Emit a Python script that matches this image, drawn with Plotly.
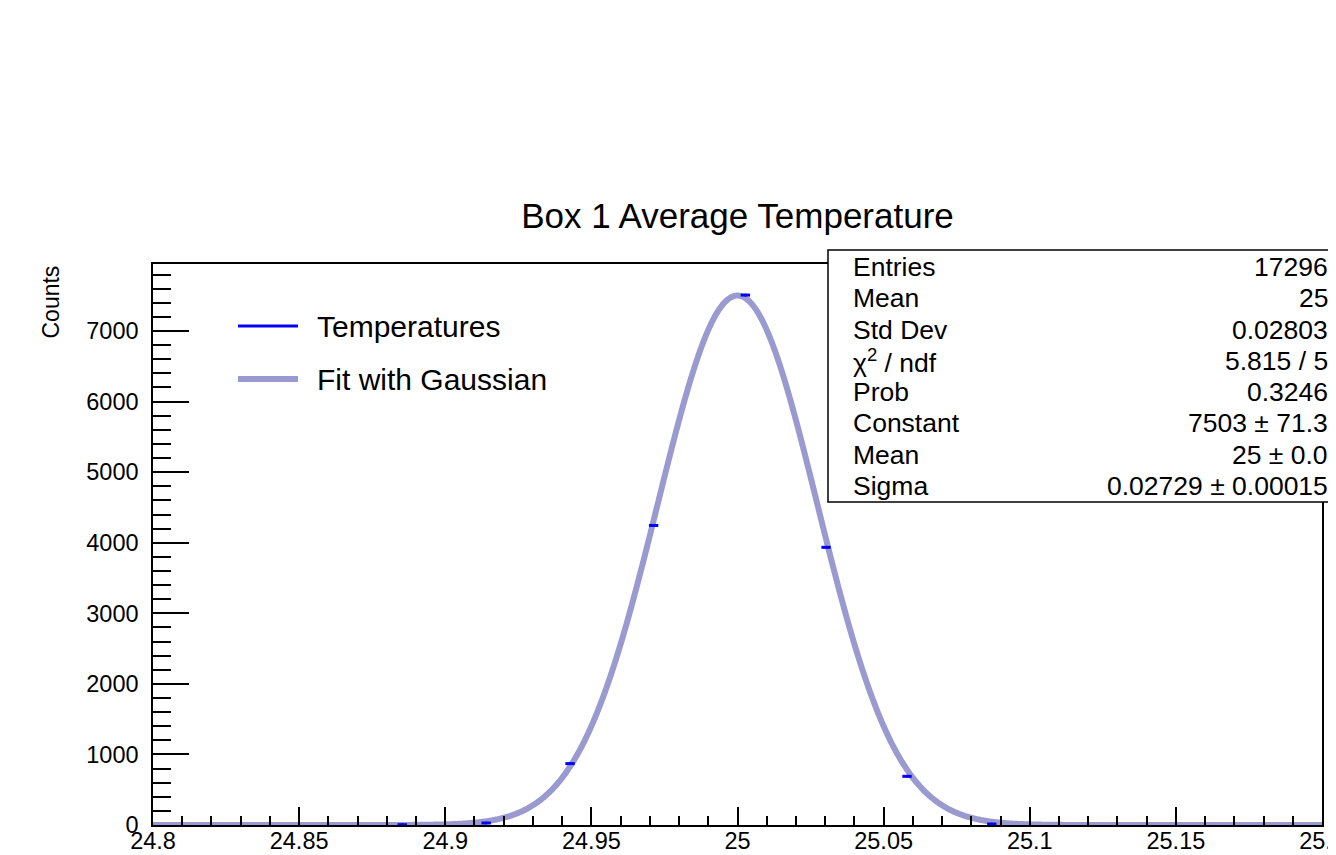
import numpy as np
import plotly.graph_objects as go

# ---- data ----
bin_centers = [24.8853, 24.9140, 24.9427, 24.9713, 25.0027, 25.0303, 25.0580, 25.0870]
bin_counts = [4, 28, 870, 4245, 7510, 3935, 690, 14]
bin_half_width = 0.0016

fit_constant = 7503.0
fit_mean = 25.0
fit_sigma = 0.02729

stats_labels = ["Entries", "Mean", "Std Dev", "\u03c7<sup>2</sup> / ndf", "Prob", "Constant", "Mean", "Sigma"]
stats_values = ["17296", "25", "0.02803", "5.815 / 5", "0.3246", "7503 \u00b1 71.3", "25 \u00b1 0.0", "0.02729 \u00b1 0.00015"]

legend_names = ["Temperatures", "Fit with Gaussian"]

x_tick_vals = [24.8, 24.85, 24.9, 24.95, 25.0, 25.05, 25.1, 25.15, 25.2]
x_tick_text = ["24.8", "24.85", "24.9", "24.95", "25", "25.05", "25.1", "25.15", "25.2"]

x_range = [24.8, 25.2]
y_range = [0, 7950]

# ---- layout geometry (reference pixels; page body has an 8px margin) ----
OFF = 8
W, H = 1336 - OFF, 855 - OFF
L, R, T, B = 153, 1322, 264, 825
FONT = "Liberation Sans, Arial, Helvetica, sans-serif"
DATA_COLOR = "#0000ff"
FIT_COLOR = "#9a9ad0"


def px(xp):
    return (xp - L) / (R - L)


def py(yp):
    return (B - yp) / (B - T)


fit_x = np.linspace(x_range[0], x_range[1], 1200)
fit_y = fit_constant * np.exp(-0.5 * ((fit_x - fit_mean) / fit_sigma) ** 2)

fig = go.Figure()
fig.add_trace(go.Scatter(
    x=fit_x, y=fit_y, mode="lines", name=legend_names[1],
    line=dict(color=FIT_COLOR, width=6, simplify=False), showlegend=False, hoverinfo="skip"))
fig.add_trace(go.Scatter(
    x=bin_centers, y=bin_counts, mode="markers", name=legend_names[0],
    marker=dict(color=DATA_COLOR, size=3),
    error_x=dict(type="constant", value=bin_half_width, color=DATA_COLOR, thickness=3, width=0),
    showlegend=False))

shapes = []
annotations = []

# stats box
shapes.append(dict(type="rect", xref="paper", yref="paper",
                   x0=px(828), x1=px(1334), y0=py(502), y1=py(250),
                   line=dict(color="black", width=1.5), fillcolor="white", layer="above"))
row_top, row_bot = 267, 486
for i, (lab, val) in enumerate(zip(stats_labels, stats_values)):
    yc = row_top + i * (row_bot - row_top) / (len(stats_labels) - 1)
    annotations.append(dict(xref="paper", yref="paper", x=px(851), y=py(yc), text=lab,
                            xanchor="left", yanchor="middle", showarrow=False,
                            font=dict(family=FONT, size=26.5, color="black")))
    annotations.append(dict(xref="paper", yref="paper", x=px(1330), y=py(yc), text=val,
                            xanchor="right", yanchor="middle", showarrow=False,
                            font=dict(family=FONT, size=26.5, color="black")))

# legend (manual)
leg_rows = [(326, DATA_COLOR, 3), (379, FIT_COLOR, 6)]
for (yc, col, w), name in zip(leg_rows, legend_names):
    shapes.append(dict(type="line", xref="paper", yref="paper",
                       x0=px(238), x1=px(298), y0=py(yc), y1=py(yc),
                       line=dict(color=col, width=w)))
    annotations.append(dict(xref="paper", yref="paper", x=px(315), y=py(yc), text=name,
                            xanchor="left", yanchor="middle", showarrow=False,
                            font=dict(family=FONT, size=30, color="black")))

# y-axis title (top-aligned as in ROOT)
annotations.append(dict(xref="paper", yref="paper", x=px(50), y=py(264), text="Counts",
                        textangle=-90, xanchor="center", yanchor="top", showarrow=False,
                        font=dict(family=FONT, size=23, color="black")))

fig.update_layout(
    width=W, height=H,
    margin=dict(l=L - OFF, r=W - (R - OFF), t=T - OFF, b=H - (B - OFF), pad=0, autoexpand=False),
    paper_bgcolor="white", plot_bgcolor="white",
    font=dict(family=FONT, color="black"),
    title=dict(text="Box 1 Average Temperature", x=0.5, xref="paper",
               y=1 - (216 - OFF) / H, yref="container", xanchor="center", yanchor="middle",
               font=dict(family=FONT, size=35, color="black"), automargin=False),
    shapes=shapes, annotations=annotations, showlegend=False,
)
fig.update_xaxes(
    range=x_range, tickmode="array", tickvals=x_tick_vals, ticktext=x_tick_text,
    ticks="inside", ticklen=18, tickwidth=1.5, automargin=False, ticklabeloverflow="allow",
    tickcolor="black", showgrid=False, zeroline=False,
    showline=True, linecolor="black", linewidth=1.5, mirror=True,
    tickfont=dict(family=FONT, size=23.5, color="black"), ticklabelstandoff=-6,
    minor=dict(tick0=24.8, dtick=0.01, ticks="inside", ticklen=9, tickwidth=1.5, tickcolor="black", showgrid=False),
)
fig.update_yaxes(
    range=y_range, tick0=0, dtick=1000, ticks="inside", ticklen=36, tickwidth=1.5,
    tickcolor="black", showgrid=False, zeroline=False, automargin=False,
    showline=True, linecolor="black", linewidth=1.5, mirror=True,
    tickfont=dict(family=FONT, size=23.5, color="black"), ticklabelstandoff=8,
    minor=dict(dtick=200, ticks="inside", ticklen=18, tickwidth=1.5, tickcolor="black", showgrid=False),
)

fig.write_html("out.html")
